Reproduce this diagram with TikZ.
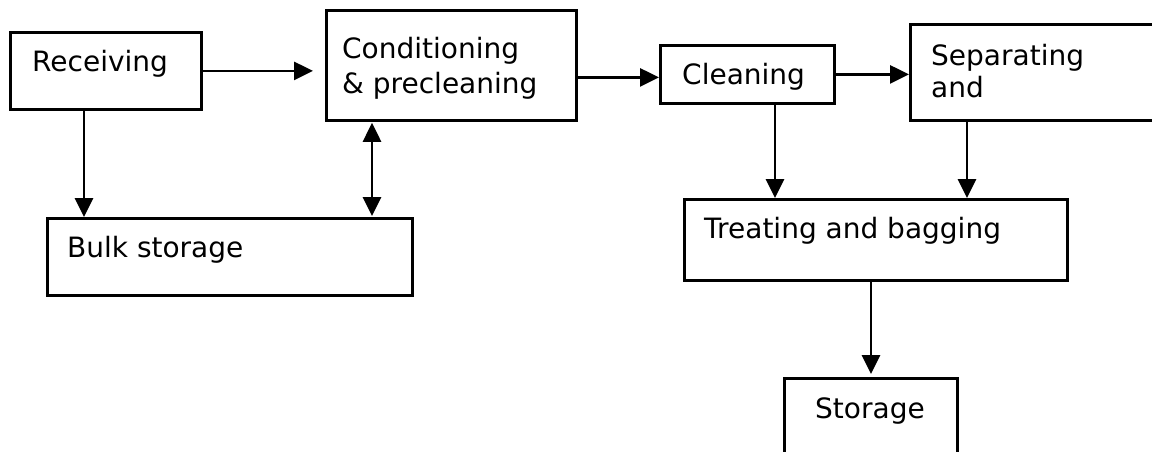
\documentclass[tikz,border=0pt]{standalone}
\usepackage{fontspec}
\setmainfont{DejaVu Sans}
\usetikzlibrary{arrows.meta}
\begin{document}
\begin{tikzpicture}[x=1pt,y=-1pt,
  box/.style={draw=black,line width=2.8pt,inner sep=0pt,anchor=north west},
  lbl/.style={inner sep=0pt,anchor=base west,font=\fontsize{28}{34}\selectfont},
  arr/.style={line width=2.8pt,-{Triangle[length=19pt,width=18pt]}},
  darr/.style={line width=2.8pt,{Triangle[length=19pt,width=18pt]}-{Triangle[length=19pt,width=18pt]}}]
\path[use as bounding box,clip] (0,0) rectangle (1152,451);
\fill[white] (0,0) rectangle (1152,451);
% boxes
\node[box,minimum width=191pt,minimum height=77pt] (rec) at (9,31) {};
\node[box,minimum width=250pt,minimum height=110pt] (cond) at (325,9) {};
\node[box,minimum width=365pt,minimum height=77pt] (bulk) at (46,217) {};
\node[box,minimum width=174pt,minimum height=58pt] (clean) at (659,44) {};
\node[box,minimum width=270pt,minimum height=96pt] (sep) at (909,23) {};
\node[box,minimum width=383pt,minimum height=81pt] (treat) at (683,198) {};
\node[box,minimum width=173pt,minimum height=110pt] (stor) at (783,377) {};
% labels
\node[lbl] (recT) at (32,71) {Receiving};
\node[lbl] (condT1) at (342,58) {Conditioning};
\node[lbl] (condT2) at (342,93) {\& precleaning};
\node[lbl] (bulkT) at (67,257) {Bulk storage};
\node[lbl] (cleanT) at (682,84) {Cleaning};
\node[lbl] (sepT1) at (931,65) {Separating};
\node[lbl] (sepT2) at (931,97) {and};
\node[lbl] (treatT) at (704,238) {Treating and bagging};
\node[lbl] (storT) at (815,418) {Storage};
% connectors
\draw[arr,shorten >=12pt] (rec.east) -- (rec.east -| cond.west);
\draw[arr] ([xshift=75pt]rec.south west) -- ([xshift=75pt]rec.south west |- bulk.north);
\draw[darr,shorten <=1pt,shorten >=1pt] ([xshift=47pt]cond.south west) -- ([xshift=47pt]cond.south west |- bulk.north);
\draw[arr] ([yshift=-3pt]clean.west -| cond.east) -- ([yshift=-3pt]clean.west);
\draw[arr] (clean.east) -- (clean.east -| sep.west);
\draw[arr] ([xshift=116pt]clean.south west) -- ([xshift=116pt]clean.south west |- treat.north);
\draw[arr] ([xshift=58pt]sep.south west) -- ([xshift=58pt]sep.south west |- treat.north);
\draw[arr,shorten >=3pt] ([xshift=188pt]treat.south west) -- ([xshift=188pt]treat.south west |- stor.north);
\end{tikzpicture}
\end{document}
